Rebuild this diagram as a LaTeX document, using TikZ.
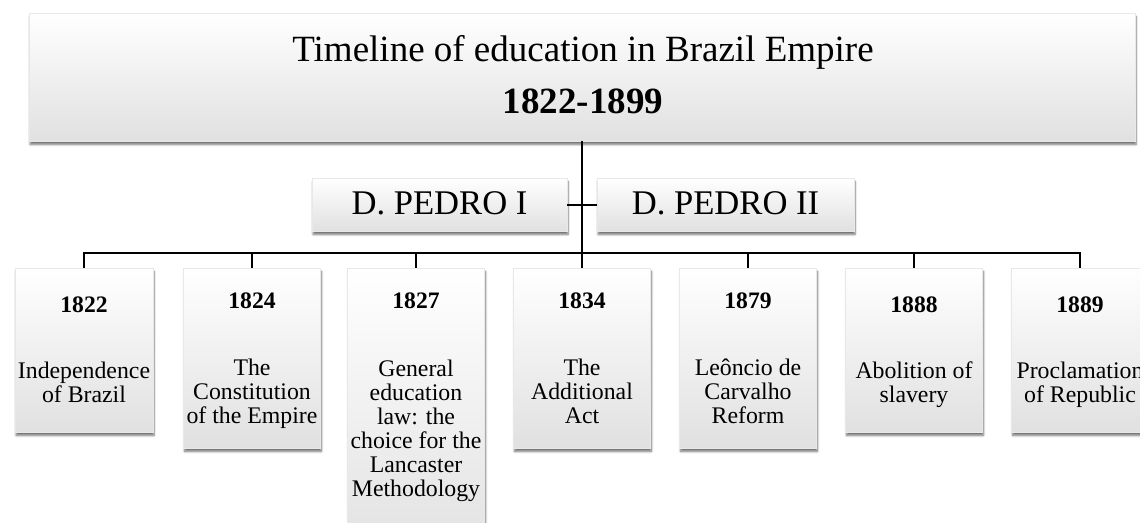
\documentclass[tikz,border=0pt]{standalone}
\usepackage{fontspec}
\setmainfont{Liberation Serif}
\usetikzlibrary{shadows.blur}
\tikzset{
  card/.style={rectangle, inner sep=0pt, draw=gray!18, line width=0.4pt,
    top color=white, middle color=white, bottom color=black!12,
    blur shadow={shadow xshift=1pt, shadow yshift=-3.5pt, shadow blur radius=2pt,
      shadow blur steps=6, shadow opacity=55}},
  yeartxt/.style={anchor=base, inner sep=0pt, font=\fontsize{23.6}{24}\selectfont\bfseries},
  bodytxt/.style={anchor=base, inner sep=0pt, font=\fontsize{23.8}{24}\selectfont},
  titletxt/.style={anchor=base, inner sep=0pt, font=\fontsize{37}{40}\selectfont},
  pedrotxt/.style={anchor=base, inner sep=0pt, font=\fontsize{34.6}{36}\selectfont},
  link/.style={line width=2pt, black},
  drop/.style={line width=1.6pt, black}
}
\newcommand{\lines}[1]{\begin{tabular}[t]{@{}c@{}}#1\end{tabular}}
\begin{document}
\begin{tikzpicture}[x=1pt, y=-1pt]
\useasboundingbox (0,0) rectangle (1140,522);
% top box
\node[card, minimum width=1106pt, minimum height=128pt] (top) at (582,77) {};
\node[titletxt] (t1) at (583,61) {Timeline of education in Brazil Empire};
\node[titletxt, font=\fontsize{37}{40}\selectfont\bfseries] (t2) at (583,113) {1822-1899};
% emperors
\node[card, minimum width=255pt, minimum height=53pt] (p1) at (439.5,204.5) {};
\node[card, minimum width=257pt, minimum height=53pt] (p2) at (725.5,204.5) {};
\node[pedrotxt] (p1t) at (439.5,214) {D. PEDRO I};
\node[pedrotxt] (p2t) at (725.5,214) {D. PEDRO II};
% event boxes
\node[card, minimum width=138pt, minimum height=164pt] (b1) at (84,350) {};
\node[card, minimum width=137pt, minimum height=180pt] (b2) at (252,358) {};
\node[card, minimum width=137pt, minimum height=300pt] (b3) at (416,418) {};
\node[card, minimum width=137pt, minimum height=180pt] (b4) at (582,358) {};
\node[card, minimum width=137pt, minimum height=180pt] (b5) at (748,358) {};
\node[card, minimum width=137pt, minimum height=164pt] (b6) at (914,350) {};
\node[card, minimum width=137pt, minimum height=164pt] (b7) at (1080,350) {};
% years
\node[yeartxt] (y1) at (84,312) {1822};
\node[yeartxt] (y2) at (252,308) {1824};
\node[yeartxt] (y3) at (416,308) {1827};
\node[yeartxt] (y4) at (582,308) {1834};
\node[yeartxt] (y5) at (748,308) {1879};
\node[yeartxt] (y6) at (914,312) {1888};
\node[yeartxt] (y7) at (1080,312) {1889};
% texts
\node[bodytxt] (e1) at (84,378) {\lines{Independence\\of Brazil}};
\node[bodytxt] (e2) at (252,375) {\lines{The\\Constitution\\of the Empire}};
\node[bodytxt] (e3) at (416,376) {\lines{General\\education\\law: the\\choice for the\\Lancaster\\Methodology}};
\node[bodytxt] (e4) at (582,375) {\lines{The\\Additional\\Act}};
\node[bodytxt] (e5) at (748,375) {\lines{Le\^{o}ncio de\\Carvalho\\Reform}};
\node[bodytxt] (e6) at (914,378) {\lines{Abolition of\\slavery}};
\node[bodytxt] (e7) at (1080,378) {\lines{Proclamation\\of Republic}};
% connectors
\coordinate (bus) at (582,253);
\draw[link] (top.south) -- (top.south |- b4.north);
\draw[link] (p1.east) -- (p2.west);
\draw[link] (b1.north -| b1.north) -- (b1.north |- bus) -- (b7.north |- bus) -- (b7.north);
\foreach \b in {b2,b3,b5,b6} {\draw[drop] (\b.north) -- (\b.north |- bus);}
\end{tikzpicture}
\end{document}
